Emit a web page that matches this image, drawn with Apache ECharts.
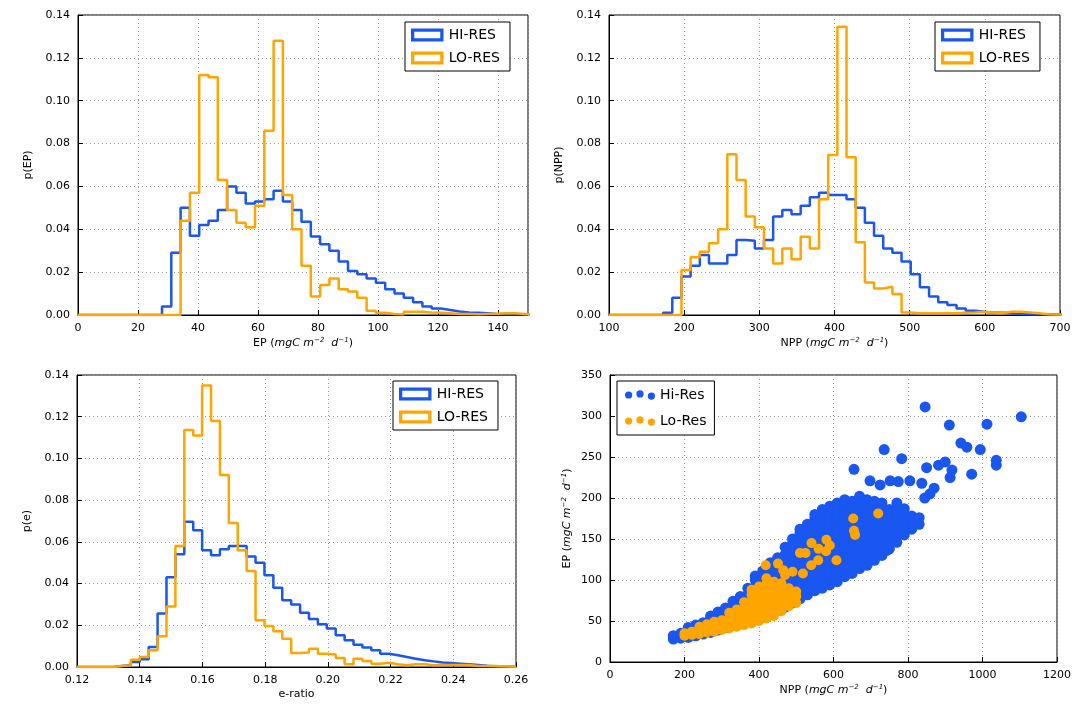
<!DOCTYPE html>
<html><head><meta charset="utf-8">
<script src="https://cdn.jsdelivr.net/npm/echarts@6/dist/echarts.min.js"></script>
<style>html,body{margin:0;padding:0;background:#fff}#c{width:1089px;height:710px}</style>
</head><body><div id="c"></div>
<script>
// ---------- DATA ----------
const epStart = 28, epWidth = 3.1;
const epHi = [0.004,0.029,0.050,0.037,0.042,0.044,0.049,0.060,0.057,0.052,0.053,0.054,0.058,0.053,0.049,0.0435,0.0366,0.033,0.030,0.025,0.0205,0.019,0.017,0.015,0.012,0.010,0.008,0.006,0.004,0.003,0.0023,0.0016,0.0012,0.001,0.0008,0.0005,0.0004,0.0003,0.0003,0.0002];
const epLo = [0,0,0.044,0.057,0.112,0.111,0.063,0.049,0.043,0.041,0.051,0.086,0.128,0.056,0.040,0.023,0.0086,0.014,0.017,0.012,0.011,0.008,0.002,0.001,0.0005,0.0003,0.0015,0.0015,0.0012,0.001,0.0008,0.0005,0.0005,0.0004,0.0005,0.0006,0.0008,0.0008,0.0005,0.0003];
const nppStart = 172, nppWidth = 12.2;
const nppHi = [0.001,0.008,0.018,0.023,0.028,0.024,0.024,0.028,0.035,0.0347,0.031,0.035,0.046,0.049,0.047,0.051,0.055,0.057,0.056,0.056,0.054,0.050,0.043,0.037,0.031,0.029,0.025,0.019,0.013,0.0086,0.006,0.0047,0.003,0.002,0.0015,0.001,0.001,0.0008,0.0005,0.0004,0.0003,0.0003,0.0002,0.0002];
const nppLo = [0,0,0.021,0.027,0.0295,0.0335,0.040,0.075,0.063,0.046,0.041,0.031,0.024,0.031,0.026,0.0365,0.031,0.054,0.0747,0.1345,0.0736,0.034,0.0152,0.0124,0.0132,0.0098,0.0012,0.0008,0.0008,0.0008,0.0008,0.0008,0.001,0.0012,0.0015,0.001,0.0008,0.0015,0.0015,0.0012,0.0008,0.0003,0.0002,0.0002];
const eStart = 0.1315, eWidth = 0.00284;
const eHi = [0.0005,0.001,0.0024,0.0037,0.0096,0.0256,0.043,0.054,0.0696,0.0656,0.056,0.0536,0.0565,0.058,0.058,0.053,0.050,0.044,0.038,0.032,0.030,0.026,0.023,0.0205,0.0184,0.0152,0.0128,0.0107,0.0093,0.008,0.0064,0.0056,0.0048,0.004,0.0032,0.0027,0.0022,0.0019,0.0016,0.0013,0.001,0.0006,0.0003,0.0002,0.0001];
const eLo = [0.0005,0.0008,0.0035,0.0048,0.008,0.0147,0.029,0.058,0.1136,0.111,0.135,0.118,0.092,0.069,0.056,0.046,0.0224,0.0197,0.0171,0.0136,0.0067,0.0069,0.0088,0.0064,0.006,0.0043,0.0013,0.004,0.0029,0.0016,0.002,0.0013,0.0008,0.0013,0.0013,0.0008,0.001,0.001,0.001,0.001,0.0005,0.0005,0.0005,0.0003,0.0002];
// scatter: NPP columns with EP values
const hiCols = [
 [170,[28,32]],[190,[29,35]],[210,[30,37,42]],[230,[32,38,45]],[250,[34,41,48]],[270,[36,44,52,56]],
 [290,[39,47,55,61]],[310,[42,50,58,66]],[330,[45,53,61,69,74]],[350,[48,56,64,72,80]],
 [370,[50,58,66,74,82,90]],[390,[52,60,68,76,84,92,100,105]],[410,[55,63,71,79,87,95,103,111]],
 [430,[59,67,75,83,91,99,107,115,121]],[450,[63,71,79,87,95,103,111,119,127]],
 [470,[67,75,83,91,99,107,115,123,131,140]],[490,[72,80,88,96,104,112,120,128,136,144,150]],
 [510,[77,85,93,101,109,117,125,133,141,149,157,162]],[530,[82,90,98,106,114,122,130,138,146,154,162,168]],
 [550,[87,95,103,111,119,127,135,143,151,159,167,175,180]],[570,[90,98,106,114,122,130,138,146,154,162,170,178,186]],
 [590,[94,102,110,118,126,134,142,150,158,166,174,182,190]],[610,[98,106,114,122,130,138,146,154,162,170,178,186,194]],
 [630,[104,112,120,128,136,144,152,160,168,176,184,192,198]],[650,[108,116,124,132,140,148,156,164,172,180,188,196]],
 [670,[114,122,130,138,146,154,162,170,178,186,194,202]],[690,[118,126,134,142,150,158,166,174,182,190,198]],
 [710,[124,132,140,148,156,164,172,180,188,196]],[730,[130,138,146,154,162,170,178,186,194]],
 [750,[138,146,154,162,170,178,186]],[770,[146,154,162,170,178,186,194]],[790,[155,163,171,179,187]],
 [810,[162,170,178]],[830,[168,176]]
];
const hiOutliers = [[846,311],[911,289],[1012,290],[1104,299],[942,267],[958,262],[994,259],[736,259],[783,248],[655,235],[1037,246],[1037,240],[971,229],[850,237],[882,240],[900,244],[918,234],[913,225],[698,221],[725,216],[752,221],[774,220],[805,221],[837,218],[859,205],[814,169],[743,136],[734,149],[870,212],[845,200]];
const loCols = [
 [200,[32,35]],[220,[33,37]],[240,[34,39,43]],[260,[36,41,46]],[280,[37,43,49]],[300,[39,45,51]],
 [320,[41,47,54,60]],[340,[43,50,57,64]],[360,[45,52,59,66,73]],[380,[47,54,61,68,75,82,88]],
 [400,[50,57,64,71,78,85,92]],[420,[53,60,67,74,81,88,96,102]],[440,[56,63,70,77,84,91,98]],
 [460,[62,69,76,83,90,96]],[480,[68,75,82,90]],[500,[72,80,86]]
];
const loOutliers = [[418,118],[451,120],[465,112],[490,110],[510,133],[525,133],[541,145],[560,138],[581,149],[590,142],[653,175],[720,181],[658,155],[655,160],[559,124],[608,124],[518,108],[540,118],[470,106],[580,135]];

// ---------- BUILD ----------
const BLUE = '#1a56f0', ORANGE = '#ffa500';
function steps(start, w, vals, xmin, xmax){
  const d = [[xmin,0]];
  vals.forEach((v,i)=>d.push([start+i*w, v]));
  d.push([start+vals.length*w, 0]);
  d.push([xmax,0]);
  return d;
}
function cols(c){ const out=[]; c.forEach(([x,ys])=>ys.forEach(y=>out.push([x,y]))); return out; }

const font = 'DejaVu Sans';
const rich = {i:{fontStyle:'italic',fontSize:11,fontFamily:font,color:'#000'}, s:{fontStyle:'italic',fontSize:7,verticalAlign:'top',padding:[0,0,6,0],fontFamily:font,color:'#000'}};
function xAx(idx,min,max,interval,name,dec,showMax){
  return {gridIndex:idx,type:'value',min,max,interval,name,nameLocation:'middle',nameGap:22,
    nameTextStyle:{fontFamily:font,fontSize:11,color:'#000',rich},
    axisLine:{lineStyle:{color:'#000'}},axisTick:{inside:true,lineStyle:{color:'#000'}},
    axisLabel:{fontFamily:font,fontSize:11,color:'#000',showMaxLabel:showMax,formatter:v=>dec?v.toFixed(dec):String(v)},
    splitLine:{show:true,lineStyle:{type:[1,3],color:'#999'}}};
}
function yAx(idx,min,max,interval,name,dec,gap){
  return {gridIndex:idx,type:'value',min,max,interval,name,nameLocation:'middle',nameGap:gap,
    nameTextStyle:{fontFamily:font,fontSize:11,color:'#000',rich},
    axisLine:{lineStyle:{color:'#000'}},axisTick:{inside:true,lineStyle:{color:'#000'}},
    axisLabel:{fontFamily:font,fontSize:11,color:'#000',formatter:v=>dec?v.toFixed(dec):String(v)},
    splitLine:{show:true,lineStyle:{type:[1,3],color:'#999'}}};
}
const grids = [
  {left:78,top:15,width:450,height:300},
  {left:609,top:15,width:451,height:300},
  {left:77,top:375,width:439,height:292},
  {left:610,top:375,width:447,height:287}
];
grids.forEach(g=>{g.show=true;g.borderColor='#000';g.borderWidth=1;g.backgroundColor='transparent';});
const unit = ' ({i|mgC m}{s|−2}{i|  d}{s|−1})';
function hist(name,color,data,idx){
  return {name:name,type:'line',step:'end',xAxisIndex:idx,yAxisIndex:idx,data,symbol:'none',
    lineStyle:{color,width:2.5},itemStyle:{color},animation:false,clip:true};
}
const boxIcon = 'path://M0,0H30V12H0Z M3,3V9H27V3Z';
function histLegend(idx,left,top){
  return {show:true,orient:'vertical',left,top,
    data:[{name:'HI-RES'+idx,icon:boxIcon,itemStyle:{color:BLUE}},{name:'LO-RES'+idx,icon:boxIcon,itemStyle:{color:ORANGE}}],
    formatter:n=>n.replace(/\d$/,''),itemWidth:33,itemHeight:13,itemGap:9,
    textStyle:{fontFamily:font,fontSize:14,color:'#000'},borderColor:'#000',borderWidth:1,padding:[6,10,6,6],backgroundColor:'#fff'};
}
const dotsIcon = 'path://M0,4a3.5,3.5 0 1,0 7,0a3.5,3.5 0 1,0 -7,0Z M11,3a3.5,3.5 0 1,0 7,0a3.5,3.5 0 1,0 -7,0Z M22,5a3.5,3.5 0 1,0 7,0a3.5,3.5 0 1,0 -7,0Z';
const option = {
  animation:false,
  grid:grids,
  xAxis:[xAx(0,0,150,20,'EP'+unit,0,false),xAx(1,100,700,100,'NPP'+unit,0,true),xAx(2,0.12,0.26,0.02,'e-ratio',2,true),xAx(3,0,1200,200,'NPP'+unit,0,true)],
  yAxis:[yAx(0,0,0.14,0.02,'p(EP)',2,44),yAx(1,0,0.14,0.02,'p(NPP)',2,44),yAx(2,0,0.14,0.02,'p(e)',2,44),yAx(3,0,350,50,'EP'+unit,0,36)],
  legend:[histLegend(1,405,22),histLegend(2,935,22),histLegend(3,393,381),
    {orient:'vertical',left:617,top:381,data:[{name:'Hi-Res',icon:dotsIcon},{name:'Lo-Res',icon:dotsIcon}],itemWidth:30,itemHeight:10,itemGap:12,
     textStyle:{fontFamily:font,fontSize:14,color:'#000'},borderColor:'#000',borderWidth:1,padding:[7,8,7,8],backgroundColor:'#fff'}],
  series:[
    hist('HI-RES1',BLUE,steps(epStart,epWidth,epHi,0,150),0),
    hist('LO-RES1',ORANGE,steps(epStart,epWidth,epLo,0,150),0),
    hist('HI-RES2',BLUE,steps(nppStart,nppWidth,nppHi,100,700),1),
    hist('LO-RES2',ORANGE,steps(nppStart,nppWidth,nppLo,100,700),1),
    hist('HI-RES3',BLUE,steps(eStart,eWidth,eHi,0.12,0.26),2),
    hist('LO-RES3',ORANGE,steps(eStart,eWidth,eLo,0.12,0.26),2),
    {name:'Hi-Res',type:'scatter',xAxisIndex:3,yAxisIndex:3,symbolSize:11,itemStyle:{color:BLUE,opacity:1},data:cols(hiCols).concat(hiOutliers)},
    {name:'Lo-Res',type:'scatter',xAxisIndex:3,yAxisIndex:3,symbolSize:10,itemStyle:{color:ORANGE,opacity:1},data:cols(loCols).concat(loOutliers)}
  ]
};
echarts.init(document.getElementById('c')).setOption(option);
</script></body></html>
